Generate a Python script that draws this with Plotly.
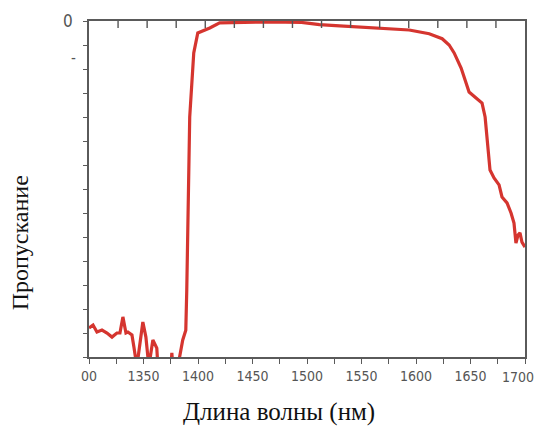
import plotly.graph_objects as go

# Transmission spectrum, wavelength in nm vs relative transmission (arb. log units)
wavelength = [1300.0, 1303.7, 1307.3, 1311.9, 1316.5, 1321.1, 1325.6, 1328.4, 1331.1, 1333.9,
              1335.7, 1339.4, 1341.2, 1343.9, 1349.4, 1352.2, 1354.9, 1358.6, 1362.2, 1363.2,
              1369.6, 1375.5, 1376.0, 1376.9, 1381.5, 1386.0, 1388.8, 1389.7, 1392.4, 1394.3,
              1396.1, 1399.8, 1410.8, 1419.9, 1440.0, 1460.0, 1480.0, 1495.0, 1502.3, 1511.4,
              1530.0, 1550.8, 1570.0, 1593.8, 1612.1, 1624.0, 1630.4, 1635.0, 1641.4, 1646.0,
              1648.7, 1655.1, 1660.6, 1663.4, 1665.2, 1667.9, 1671.6, 1676.2, 1678.9, 1683.5,
              1687.2, 1689.9, 1691.7, 1693.6, 1695.4, 1697.2, 1700.0]
transmission = [-12.79, -12.67, -12.96, -12.88, -13.0, -13.17, -13.0, -13.0, -12.33, -13.0,
                -12.96, -13.08, -13.58, -14.4, -12.54, -13.17, -14.4, -13.29, -13.63, -14.4,
                -14.6, -14.2, -13.83, -14.4, -14.4, -13.29, -12.88, -11.21, -4.0, -2.58,
                -1.33, -0.5, -0.29, -0.08, -0.05, -0.04, -0.05, -0.06, -0.1, -0.15,
                -0.2, -0.25, -0.3, -0.375, -0.53, -0.74, -1.0, -1.33, -1.96, -2.54,
                -2.96, -3.21, -3.42, -4.0, -4.96, -6.21, -6.54, -6.83, -7.33, -7.58,
                -8.0, -8.42, -9.25, -8.92, -8.83, -9.21, -9.42]

x_tick_vals = [1300, 1325, 1350, 1375, 1400, 1425, 1450, 1475, 1500, 1525,
               1550, 1575, 1600, 1625, 1650, 1675, 1700]
x_tick_text = ["00", "", "1350", "", "1400", "", "1450", "", "1500", "",
               "1550", "", "1600", "", "1650", "", ""]
last_tick_label = "1700"

# number of divisions of the unlabelled tick scale along the top frame edge
top_divisions = 15

axis_color = "#5a5a5a"
line_color = "#d5352f"
label_family = "DejaVu Sans Condensed, Liberation Sans Narrow, Liberation Sans, sans-serif"
tick_font = dict(family=label_family, size=14, color="#555555")
title_family = "Liberation Serif, Times New Roman, serif"

plot_h = 430 - 21 - 73

fig = go.Figure()
fig.add_trace(go.Scatter(x=wavelength, y=transmission, mode="lines",
                         line=dict(color=line_color, width=3.2), showlegend=False,
                         hoverinfo="skip"))

# inward ticks on the top frame edge
top_ticks = [
    dict(type="line", xref="paper", yref="paper",
         x0=i / top_divisions, x1=i / top_divisions, y0=1.0, y1=1.0 - 7 / plot_h,
         line=dict(color="#555555", width=1.4), layer="above")
    for i in range(1, top_divisions)
]

fig.update_layout(
    width=539, height=430,
    margin=dict(l=89, r=12, t=21, b=73),
    paper_bgcolor="white", plot_bgcolor="white",
    xaxis=dict(range=[1300, 1700], tickmode="array", tickvals=x_tick_vals,
               ticktext=x_tick_text, ticks="outside", ticklen=5, tickwidth=1.2,
               tickcolor=axis_color, showline=True, linecolor=axis_color, linewidth=2,
               mirror=True, showgrid=False, zeroline=False, tickfont=tick_font),
    yaxis=dict(range=[-14, 0], tickmode="linear", tick0=0, dtick=1, ticks="outside",
               ticklen=4, tickcolor=axis_color, showticklabels=False, showline=True,
               linecolor=axis_color, linewidth=2, mirror=True, showgrid=False,
               zeroline=False),
    shapes=top_ticks,
    annotations=[
        dict(text=last_tick_label, x=(538 - 89) / 438, y=-(377 - 357) / 336, xref="paper",
             yref="paper", showarrow=False, xanchor="right", yanchor="middle",
             font=tick_font),
        dict(text="0", x=-0.048, y=1.0, xref="paper", yref="paper", showarrow=False,
             xanchor="center", yanchor="middle",
             font=dict(family=label_family, size=17, color="#555555")),
        dict(text="-", x=-0.036, y=(357 - 58) / 336, xref="paper", yref="paper",
             showarrow=False, xanchor="center", yanchor="middle",
             font=dict(family=label_family, size=15, color="#555555")),
        dict(text="Пропускание", x=(20 - 89) / 438, y=(357 - 243) / 336, xref="paper",
             yref="paper", showarrow=False, textangle=-90, xanchor="center",
             yanchor="middle",
             font=dict(family=title_family, size=24, color="#111111")),
        dict(text="Длина волны (нм)", x=(280 - 89) / 438, y=(357 - 412) / 336,
             xref="paper", yref="paper", showarrow=False, xanchor="center",
             yanchor="middle",
             font=dict(family=title_family, size=25, color="#111111")),
    ],
)

fig.write_html("out.html")
